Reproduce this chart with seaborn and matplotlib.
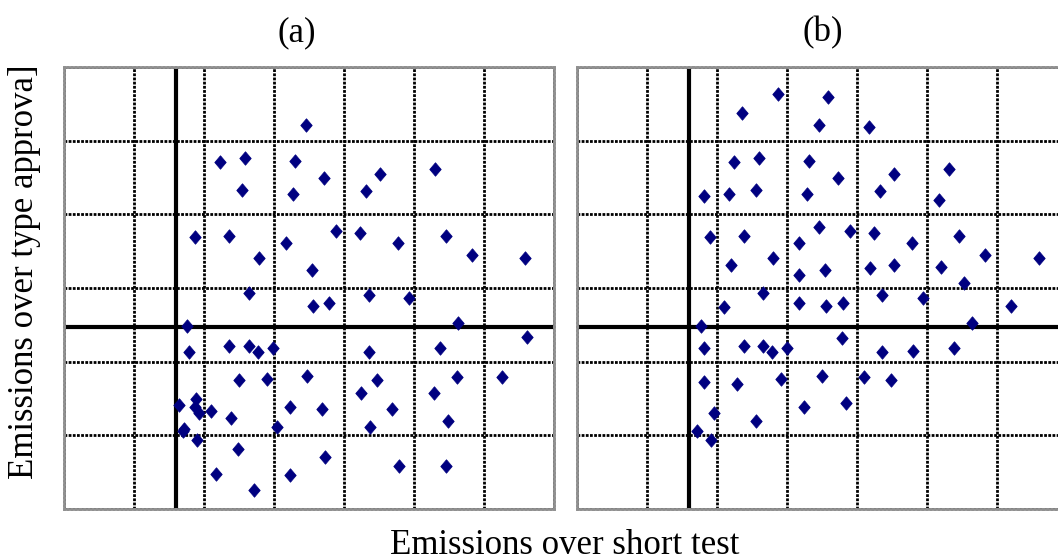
import matplotlib
matplotlib.use("Agg")
import matplotlib.pyplot as plt
import seaborn as sns
import pandas as pd

# Panel (a) data (grid units)
a_x = [3.45, 2.23, 2.58, 3.30, 2.54, 3.27, 3.71, 4.51, 4.31, 5.30,
       1.87, 2.36, 3.88, 4.23, 3.17, 4.77, 5.45, 2.79, 3.54, 5.83,
       6.59, 2.64, 4.35, 4.93, 3.55, 3.78, 1.75, 5.63, 6.62, 1.79,
       2.36, 2.64, 2.77, 2.98, 4.35, 5.37, 2.50, 2.90, 3.47, 4.47,
       5.61, 6.26, 4.24, 5.29, 1.64, 1.88, 1.87, 1.93, 2.10, 2.39,
       3.23, 3.68, 4.69, 5.48, 3.04, 4.37, 1.70, 1.71, 1.90, 2.49,
       3.73, 4.79, 5.46, 2.17, 3.23, 2.71]
a_y = [5.21, 4.71, 4.77, 4.73, 4.33, 4.27, 4.49, 4.55, 4.31, 4.61,
       3.69, 3.71, 3.77, 3.75, 3.61, 3.61, 3.71, 3.41, 3.25, 3.45,
       3.41, 2.93, 2.91, 2.87, 2.75, 2.79, 2.49, 2.53, 2.33, 2.13,
       2.21, 2.21, 2.13, 2.18, 2.13, 2.19, 1.75, 1.77, 1.81, 1.75,
       1.79, 1.79, 1.58, 1.58, 1.41, 1.50, 1.39, 1.30, 1.33, 1.24,
       1.39, 1.36, 1.36, 1.19, 1.11, 1.11, 1.06, 1.09, 0.93, 0.81,
       0.71, 0.58, 0.58, 0.48, 0.46, 0.26]

# Panel (b) data (grid units)
b_x = [2.87, 3.58, 2.35, 3.46, 4.17, 2.24, 2.59, 3.31, 3.72, 4.52,
       5.31, 1.81, 2.17, 2.55, 3.28, 4.32, 5.17, 1.89, 2.38, 3.45,
       3.90, 4.24, 3.17, 4.78, 5.46, 2.19, 2.80, 3.17, 3.54, 4.18,
       4.52, 5.20, 5.83, 6.60, 5.53, 2.65, 2.09, 3.17, 3.55, 3.79,
       4.35, 4.94, 6.19, 1.77, 5.64, 3.78, 1.81, 2.38, 2.65, 2.78,
       2.99, 4.35, 4.80, 5.38, 1.81, 2.28, 2.91, 3.49, 4.09, 4.48,
       3.24, 3.84, 1.95, 2.55, 1.71, 1.91]
b_y = [5.63, 5.59, 5.37, 5.21, 5.19, 4.71, 4.77, 4.73, 4.49, 4.55,
       4.61, 4.25, 4.27, 4.33, 4.27, 4.31, 4.19, 3.69, 3.71, 3.83,
       3.77, 3.75, 3.61, 3.61, 3.71, 3.31, 3.41, 3.18, 3.25, 3.27,
       3.31, 3.29, 3.45, 3.41, 3.07, 2.93, 2.74, 2.79, 2.75, 2.79,
       2.91, 2.87, 2.75, 2.49, 2.53, 2.32, 2.18, 2.21, 2.21, 2.13,
       2.18, 2.13, 2.15, 2.19, 1.72, 1.70, 1.77, 1.81, 1.79, 1.75,
       1.39, 1.44, 1.30, 1.19, 1.06, 0.93]

x_ref = 1.6
y_ref = 2.47
panel_titles = ["(a)", "(b)"]
x_label = "Emissions over short test"
y_label = "Emissions over type approva]"

sns.set_style("white")
plt.rcParams['font.family'] = ['Liberation Serif', 'DejaVu Serif']
plt.rcParams['text.color'] = 'black'

fig = plt.figure(figsize=(10.58, 5.6), dpi=100)
W, H = 1058, 560
lefts = [64, 577.3]
bottom = (H - 509) / H
width = 490 / W
height = 442 / H
title_x = [297, 823]

diamond = [(0, 1), (0.85, 0), (0, -1), (-0.85, 0), (0, 1)]

for i, (xs, ys) in enumerate([(a_x, a_y), (b_x, b_y)]):
    ax = fig.add_axes([lefts[i] / W, bottom, width, height])
    df = pd.DataFrame({"x": xs, "y": ys})
    ax.set_xlim(0, 7)
    ax.set_ylim(0, 6)
    ax.set_xticks(range(8))
    ax.set_yticks(range(7))
    ax.grid(True, color="black", linestyle=(0, (1, 0.5)), linewidth=2.0, zorder=0)
    ax.set_axisbelow(True)
    ax.axvline(x_ref, color="black", linewidth=3, zorder=2)
    ax.axhline(y_ref, color="black", linewidth=3, zorder=2)
    sns.scatterplot(data=df, x="x", y="y", ax=ax, marker=diamond, s=95,
                    color="#000080", edgecolor="#000080", linewidth=0.5, zorder=3)
    ax.set_xticklabels([])
    ax.set_yticklabels([])
    ax.tick_params(length=0)
    ax.set_xlabel("")
    ax.set_ylabel("")
    for sp in ax.spines.values():
        sp.set_color("#909090")
        sp.set_linewidth(2)
        sp.set_linestyle((0, (1, 0.5)))
    fig.text(title_x[i] / W, 1 - 33 / H, panel_titles[i], ha="center", va="center",
             fontsize=25, color="black")

fig.text(565 / W, 1 - 545 / H, x_label, ha="center", va="center", fontsize=25, color="black")
fig.text(25 / W, 1 - 272 / H, y_label, ha="center", va="center", rotation=90,
         fontsize=25, color="black")

fig.savefig("out.png", dpi=100)
